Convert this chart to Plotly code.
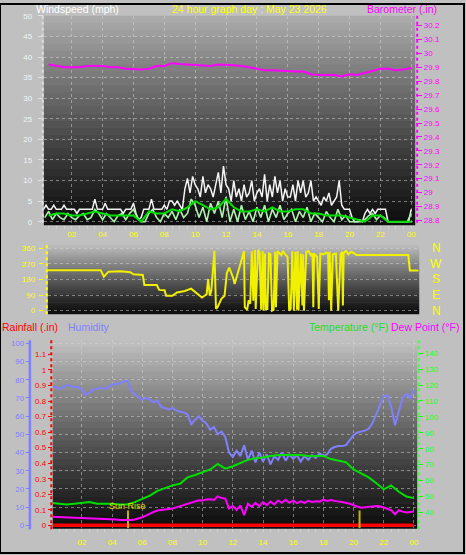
import plotly.graph_objects as go

W, H = 466, 555


def px(x):
    return x / W


def py(y):
    return 1 - y / H


# ---------------- DATA ----------------
# wind gust (mph) at 10-minute steps from 00:10 to 24:00
gust_hours = [i / 6 for i in range(1, 145)]
wind_gust = [3, 4, 3, 3, 4, 3,
             3, 3, 4, 3, 3, 3,
             3, 2, 3, 3, 3, 3,
             3, 3, 5.5, 3, 3, 3,
             4.5, 3, 3, 3, 3, 3,
             3, 2, 3, 3, 3, 4.5,
             2, 0.5, 1, 3, 3, 3,
             5.5, 3, 3, 3, 3, 4,
             3, 5, 5, 4, 5, 4,
             3, 8, 10.5, 7, 11, 9,
             8, 6, 11, 7, 9, 8,
             6, 9, 12, 7, 13.5, 9,
             8, 5, 10, 6, 8, 5,
             9, 6, 7, 10, 5, 7,
             8, 6, 11.5, 5, 9, 6,
             11, 7, 10, 5, 8, 6,
             6, 9, 5, 10, 7, 10,
             6, 7, 10, 5, 6, 5,
             4, 6, 5, 7, 4, 5,
             6, 10, 4, 3, 3, 3,
             1, 0, 0, 0.5, 0, 2,
             3, 2, 3, 2, 3, 3,
             3, 3, 0, 0, 0, 0,
             0, 0, 0, 0, 0, 3]
# wind speed (mph) at 15-minute steps from 00:15 to 24:00
wind_hours = [0.25 * i for i in range(1, 97)]
wind_speed = [1, 2.5, 0.5, 2, 1, 0.5, 2, 1,
              0.5, 1.5, 2, 0.5, 1, 3, 2, 0.5,
              2, 1, 0, 1.5, 2, 0.5, 2, 3,
              1, 0, 0, 2, 3, 1, 0, 2,
              1, 2.5, 0.5, 3, 1, 2, 5.5, 4,
              1, 3.5, 0, 4.5, 2, 5, 1, 6,
              0, 3, 0, 4, 0.5, 2.5, 0, 3.5,
              1, 4, 0, 3, 1, 4, 0.5, 2,
              3, 0, 2.5, 1, 3.5, 0, 2, 1,
              0, 2.5, 1, 0, 3, 0.5, 1.5, 0,
              0, 0, 0, 0.5, 1.5, 2, 0.5, 1.5,
              1, 0, 0, 0, 0, 0, 0, 2]
# average wind at 30-minute steps from 00:30 to 24:00
avg_hours = [0.5 * i for i in range(1, 49)]
wind_avg = [1.5, 2, 2, 1.5, 1.5, 2, 2.5, 2, 1.5, 1.5, 1.5, 1.5,
            0, 2.5, 2, 2, 3, 2.5, 3.5, 5, 4, 3, 3.5, 5.5,
            3.5, 2.5, 2.5, 3, 2.5, 3.5, 2.5, 2.5, 3, 3, 2, 2,
            1.5, 1.5, 1.5, 1, 0.5, 0, 1.5, 1.5, 0, 0, 0, 0]
# barometer (in) at 30-minute steps from 00:30 to 24:00
baro_hours = [0.5 * i for i in range(1, 49)]
barometer = [29.92, 29.91, 29.90, 29.90, 29.90, 29.91, 29.91, 29.91,
             29.90, 29.90, 29.89, 29.885, 29.885, 29.89, 29.91, 29.91,
             29.93, 29.925, 29.92, 29.92, 29.91, 29.91, 29.92, 29.92,
             29.915, 29.91, 29.90, 29.885, 29.88, 29.88, 29.875, 29.875,
             29.87, 29.87, 29.85, 29.845, 29.845, 29.845, 29.835, 29.85,
             29.845, 29.86, 29.875, 29.89, 29.89, 29.88, 29.885, 29.895]

# wind direction (degrees)
dir_hours = [0.2, 3.6, 3.8, 4.1, 4.9, 5.5, 5.7, 6.3, 6.4, 7.2, 7.35, 7.7,
             7.8, 8.2, 8.5, 9.0, 9.4, 9.7, 9.9, 10.1, 10.4, 10.5, 10.6, 10.7,
             10.9, 11.0, 11.1, 11.35, 11.55, 11.7, 11.85, 12.1, 12.2, 12.45, 12.7,
             12.8, 12.85, 13.0, 13.1, 13.2, 13.3, 13.4, 13.5, 13.55, 13.7, 13.8, 13.9,
             14.0, 14.05, 14.15, 14.2, 14.3, 14.4, 14.5, 14.6, 14.7, 14.8, 14.85, 14.95,
             15.1, 15.2, 15.3, 15.4, 15.6, 15.7, 15.8, 15.9, 16.0, 16.1, 16.2, 16.25,
             16.3, 16.45, 16.55, 16.6, 16.65, 16.8, 16.95, 17.1, 17.2, 17.25, 17.3, 17.5,
             17.6, 17.7, 17.9, 18.1, 18.2, 18.25, 18.3, 18.4, 18.5, 18.7, 18.85, 19.0,
             19.1, 19.15, 19.2, 19.35, 19.5, 19.7, 19.9, 20.0, 23.35, 23.45, 24.0]
dir_degrees = [234, 234, 196, 225, 228, 222, 210, 206, 148, 148, 120, 118,
               86, 86, 105, 114, 127, 105, 95, 76, 95, 183, 86, 114,
               345, 11, 20, 69, 86, 219, 248, 190, 154, 228, 305,
               343, 20, 5, 60, 40, 343, 57, 350, 10, 350, 340, 5,
               343, 0, 330, 10, 10, 330, 325, 0, 5, 340, 20, 343,
               330, 320, 345, 330, 310, 0, 10, 343, 0, 340, 5, 343,
               0, 330, 30, 325, 0, 340, 343, 320, 330, 20, 330, 310,
               10, 330, 325, 335, 330, 60, 340, 0, 325, 330, 0, 325,
               340, 30, 335, 345, 325, 340, 330, 322, 322, 232, 232]
dir_labels = ["N", "W", "S", "E", "N"]
dir_label_deg = [360, 270, 180, 90, 0]

# humidity (%) and dew point (F) at 15-minute steps from 00:00 to 24:00
q_hours = [0.25 * i for i in range(0, 97)]
humidity = [76, 76, 75, 76, 77, 76.5, 76, 76,
            74.5, 71.5, 73, 74.5, 75, 75.5, 75, 76,
            77.5, 77.5, 78, 79, 79.5, 74, 72, 70.5,
            69, 70, 69, 67.5, 68.5, 65, 64.5, 63.5,
            64.5, 63, 62.5, 62, 61, 55.5, 58, 60,
            57.5, 56, 52.5, 54, 50, 51.5, 48.5, 40,
            37.5, 41, 38, 44, 36, 41, 34.5, 40,
            35, 39, 33.5, 38, 36, 40, 35.5, 39,
            36.5, 38.5, 35, 38, 36, 38.5, 37, 39.5,
            38, 39, 42, 43, 43.5, 43.5, 44, 47,
            49.5, 51, 51.5, 52, 53, 56, 61, 66,
            71, 71.5, 65, 55, 62, 70, 72, 70,
            74.5]
dew_point = [37.3, 37.2, 37, 37, 37, 37, 36.8, 36.8,
             36.7, 36.6, 36.5, 36.3, 36.2, 36, 35.9, 35.8,
             35.6, 35.5, 35.3, 35.2, 35.2, 35.3, 35.6, 36.2,
             37, 38, 39.4, 40.3, 41.2, 41.5, 42, 42.2,
             42.5, 43.2, 44, 44.8, 45.5, 46.3, 46.8, 47.6,
             47.5, 48.2, 48.3, 47.8, 50.1, 49, 48.7, 42.5,
             44, 41.5, 44.5, 38.3, 45.5, 43.5, 46, 44,
             46.5, 44.5, 46.8, 45, 47.5, 46, 48, 46,
             47.5, 45.8, 47, 46, 47.3, 46.5, 47, 46.8,
             48, 47.2, 47.8, 47.2, 46.8, 46.5, 46, 45.5,
             44.5, 43.6, 43, 43.2, 43.5, 43.8, 44, 43.9,
             43.2, 42.5, 41.4, 38.8, 41.4, 40.5, 40, 40.3,
             40.6]
# temperature (F) at 30-minute steps from 00:00 to 24:00
t_hours = [0.5 * i for i in range(0, 49)]
temperature = [46, 45.5, 45, 45.5, 46, 46.5, 45.5, 45.5, 45.5, 45, 45, 46.5,
               48.5, 50.5, 53.5, 55.5, 57, 58, 62, 63.5, 65.5, 67, 70.5, 67.5,
               69, 71, 73, 74, 74.5, 75.5, 76, 76, 76, 76, 75.5, 75.5,
               75.5, 73.5, 72.5, 71.5, 67, 64.5, 62, 58.5, 54.5, 57, 53, 50,
               49]
# rainfall (in)
rain_hours = [0, 2, 4, 6, 8, 10, 12, 14, 16, 18, 20, 22, 24]
rainfall = [0, 0, 0, 0, 0, 0, 0, 0, 0, 0, 0, 0, 0]

sun_rise = 5.05
sun_set = 20.4

hour_ticks = [2, 4, 6, 8, 10, 12, 14, 16, 18, 20, 22, 24]
hour_labels = ["02", "04", "06", "08", "10", "12", "14", "16", "18", "20", "22", "00"]
wind_ticks = [0, 5, 10, 15, 20, 25, 30, 35, 40, 45, 50]
baro_ticks = [28.8, 28.9, 29.0, 29.1, 29.2, 29.3, 29.4, 29.5, 29.6, 29.7, 29.8, 29.9, 30.0, 30.1, 30.2]
baro_labels = ["28.8", "28.9", "29", "29.1", "29.2", "29.3", "29.4", "29.5", "29.6", "29.7",
               "29.8", "29.9", "30", "30.1", "30.2"]
dir_ticks = [0, 90, 180, 270, 360]
rain_ticks = [0, 0.1, 0.2, 0.3, 0.4, 0.5, 0.6, 0.7, 0.8, 0.9, 1.0, 1.1, 1.2]
rain_labels = ["0", "0.1", "0.2", "0.3", "0.4", "0.5", "0.6", "0.7", "0.8", "0.9", "1", "1.1", "1.2"]
hum_ticks = [0, 10, 20, 30, 40, 50, 60, 70, 80, 90, 100]
temp_ticks = [40, 50, 60, 70, 80, 90, 100, 110, 120, 130, 140]

# ---------------- STYLE ----------------
FONT = "Liberation Sans, Arial, sans-serif"
YELLOW = "#ffff00"
MAGENTA = "#ff00ff"
GREEN = "#00e000"
HUM = "#8080ff"
RED = "#ff0000"
GRID = "rgba(215,215,215,0.5)"
TICK = 8
TITLE = 10.5

fig = go.Figure()

# top panel: wind + barometer
fig.add_trace(go.Scatter(x=gust_hours, y=wind_gust, mode="lines", xaxis="x", yaxis="y",
                         line=dict(color="#f4f4f4", width=1.5), hoverinfo="skip"))
fig.add_trace(go.Scatter(x=wind_hours, y=wind_speed, mode="lines", xaxis="x", yaxis="y",
                         line=dict(color="#b0f0b0", width=1.6), hoverinfo="skip"))
fig.add_trace(go.Scatter(x=avg_hours, y=wind_avg, mode="lines", xaxis="x", yaxis="y",
                         line=dict(color=GREEN, width=2), hoverinfo="skip"))
fig.add_trace(go.Scatter(x=baro_hours, y=barometer, mode="lines", xaxis="x", yaxis="y2",
                         line=dict(color=MAGENTA, width=2), hoverinfo="skip"))
# direction panel
fig.add_trace(go.Scatter(x=dir_hours, y=dir_degrees, mode="lines", xaxis="x2", yaxis="y3",
                         line=dict(color="#f0f000", width=2), hoverinfo="skip"))
# bottom panel
fig.add_trace(go.Scatter(x=rain_hours, y=rainfall, mode="lines", xaxis="x3", yaxis="y4",
                         line=dict(color=RED, width=3.5), hoverinfo="skip"))
fig.add_trace(go.Scatter(x=[sun_rise, sun_rise, None, sun_set, sun_set],
                         y=[-0.019, 0.095, None, -0.019, 0.095], mode="lines",
                         xaxis="x3", yaxis="y4", line=dict(color="#c8b400", width=2),
                         hoverinfo="skip"))
fig.add_trace(go.Scatter(x=q_hours, y=humidity, mode="lines", xaxis="x3", yaxis="y5",
                         line=dict(color=HUM, width=2), hoverinfo="skip"))
fig.add_trace(go.Scatter(x=t_hours, y=temperature, mode="lines", xaxis="x3", yaxis="y6",
                         line=dict(color=GREEN, width=2), hoverinfo="skip"))
fig.add_trace(go.Scatter(x=q_hours, y=dew_point, mode="lines", xaxis="x3", yaxis="y6",
                         line=dict(color=MAGENTA, width=2), hoverinfo="skip"))

tick_font = dict(family=FONT, size=TICK)

shapes = []


def bands(x0, x1, y0, y1, top, n=30):
    for k in range(n):
        t = (k + 0.5) / n
        g = int(top * (1 - t) ** 1.15 + 14)
        shapes.append(dict(type="rect", xref="paper", yref="paper", layer="below",
                           x0=px(x0), x1=px(x1),
                           y0=py(y0 + (y1 - y0) * k / n), y1=py(y0 + (y1 - y0) * (k + 1) / n + 0.6),
                           line=dict(width=0), fillcolor=f"rgb({g},{g},{g})"))


bands(44, 417, 12, 223, 160)
bands(48, 421, 244, 313, 175)
bands(53, 419, 340, 530, 180)


def vline(x, y0, y1, color, width=2, dash="dot"):
    shapes.append(dict(type="line", xref="paper", yref="paper", layer="above",
                       x0=px(x), x1=px(x), y0=py(y0), y1=py(y1),
                       line=dict(color=color, width=width, dash=dash)))


vline(43, 12, 224, "#dcdcdc", 2)
vline(419, 12, 224, MAGENTA, 2)
vline(47, 244, 314, YELLOW, 2)
vline(30, 340, 531, HUM, 2.5, "solid")
vline(51.5, 340, 531, RED, 2)
vline(420.5, 340, 531, "#40ff40", 2)
# outer frame
shapes.append(dict(type="rect", xref="paper", yref="paper", x0=0, x1=1, y0=0, y1=1,
                   line=dict(color="#000000", width=2), layer="above"))

common_x = dict(tickmode="array", tickvals=hour_ticks, ticktext=hour_labels,
                tickfont=dict(color=YELLOW, **tick_font), showgrid=True, gridcolor=GRID,
                griddash="dot", gridwidth=1, zeroline=False, showline=False, ticks="",
                minor=dict(dtick=0.5, ticks="outside", ticklen=3, tickcolor="#d0d0d0", showgrid=False))

fig.update_layout(
    width=W, height=H,
    margin=dict(l=0, r=0, t=0, b=0),
    paper_bgcolor="#c0c0c0",
    plot_bgcolor="rgba(0,0,0,0)",
    showlegend=False,
    font=dict(family=FONT),
    xaxis=dict(domain=[px(44), px(417)], range=[0.19, 24.26], anchor="y",
               ticklabelstandoff=3, **common_x),
    yaxis=dict(domain=[py(223), py(12)], range=[-0.7, 50], tickmode="array", tickvals=wind_ticks,
               tickfont=dict(color="#f4f4f4", **tick_font), ticks="outside", ticklen=5,
               tickcolor="#e0e0e0", showline=False, showgrid=True, gridcolor=GRID, griddash="dot",
               zeroline=False, ticklabelstandoff=4),
    yaxis2=dict(overlaying="y", side="right", anchor="x", range=[28.77, 30.27], tickmode="array",
                tickvals=baro_ticks, ticktext=baro_labels,
                tickfont=dict(color=MAGENTA, **tick_font), ticks="outside", ticklen=6,
                tickcolor=MAGENTA, showgrid=False, zeroline=False, showline=False),
    xaxis2=dict(domain=[px(48), px(421)], range=[0.2, 24.05], anchor="y3", showticklabels=False,
                showgrid=False, zeroline=False, ticks=""),
    yaxis3=dict(domain=[py(313), py(244)], range=[-17, 377], tickmode="array", tickvals=dir_ticks,
                tickfont=dict(color=YELLOW, **tick_font), ticks="outside", ticklen=4,
                tickcolor=YELLOW, showgrid=True, gridcolor=GRID, griddash="dot", zeroline=False,
                showline=False, ticklabelstandoff=2),
    xaxis3=dict(domain=[px(53), px(419)], range=[0.066, 24.22], anchor="y4",
                ticklabelstandoff=8, **common_x),
    yaxis4=dict(domain=[py(530), py(340)], range=[-0.0191, 1.191], anchor="x3", side="left",
                tickmode="array", tickvals=rain_ticks, ticktext=rain_labels,
                tickfont=dict(color=RED, **tick_font), ticks="outside", ticklen=4, tickcolor=RED,
                showgrid=False, zeroline=False, showline=False),
    yaxis5=dict(overlaying="y4", anchor="free", position=px(30), side="left",
                range=[-1.63, 101.63], tickmode="array", tickvals=hum_ticks,
                tickfont=dict(color=HUM, **tick_font), ticks="outside", ticklen=4, tickcolor=HUM,
                showgrid=True, gridcolor=GRID, griddash="dot", zeroline=False, showline=False),
    yaxis6=dict(overlaying="y4", anchor="x3", side="right", range=[30.06, 148.07],
                tickmode="array", tickvals=temp_ticks,
                tickfont=dict(color="#20ff20", **tick_font), ticks="outside", ticklen=5,
                tickcolor="#20ff20", showgrid=False, zeroline=False, showline=False),
    shapes=shapes,
)

ann = []


def label(text, x, y, color, anchor="left", size=TITLE):
    ann.append(dict(text=text, x=px(x), y=py(y), xref="paper", yref="paper", showarrow=False,
                    xanchor=anchor, yanchor="middle", font=dict(color=color, size=size, family=FONT)))


label("Windspeed (mph)", 34, 5, "#ffffff")
label("24 hour graph day : May 23 2026", 251, 5, YELLOW, "center")
label("Barometer (.in)", 441, 5, MAGENTA, "right")
label("Rainfall (.in)", 0, 327, RED)
label("Humidity", 66, 327, HUM)
label("Temperature (°F)", 392, 327, "#20e020", "right")
label("Dew Point (°F)", 463, 327, MAGENTA, "right")

for t, d in zip(dir_labels, dir_label_deg):
    ann.append(dict(text=t, x=px(438), y=d, xref="paper", yref="y3", showarrow=False,
                    xanchor="center", yanchor="middle", font=dict(color=YELLOW, size=12, family=FONT)))

ann.append(dict(text="Sun Rise", x=sun_rise, y=0.125, xref="x3", yref="y4", showarrow=False,
                xanchor="center", yanchor="middle", font=dict(color="#e0e000", size=9, family=FONT)))

fig.update_layout(annotations=ann)

fig.write_html(
    "out.html",
    config={"displayModeBar": False},
    post_script=("document.body.style.margin='0';document.body.style.padding='0';"
                 "document.body.style.overflow='hidden';"
                 "document.documentElement.style.background='#c0c0c0';"),
)
